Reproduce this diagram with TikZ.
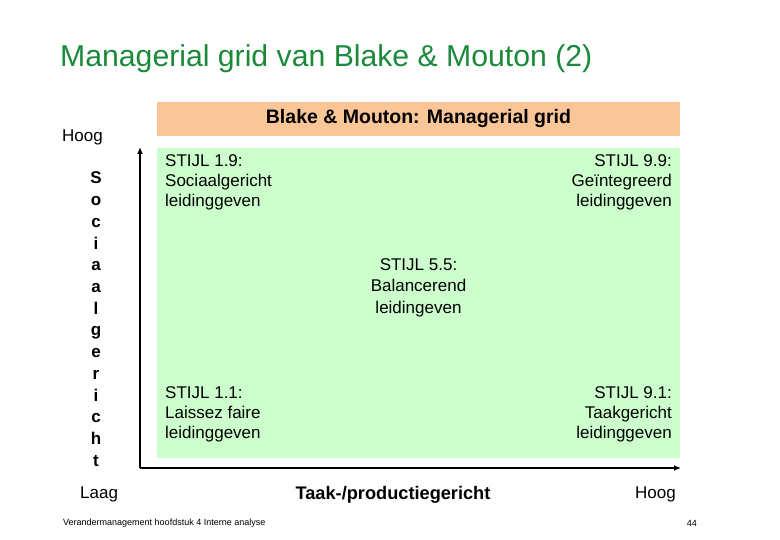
\documentclass[tikz,border=0pt]{standalone}
\usepackage{fontspec}
\setmainfont{Liberation Sans}
\usetikzlibrary{arrows.meta}
\definecolor{titlegreen}{HTML}{1A8A3A}
\definecolor{gridgreen}{HTML}{CCFFCC}
\definecolor{barpeach}{HTML}{FAC698}

\begin{document}
\begin{tikzpicture}[
    x=1pt, y=-1pt,
    stijl/.style={font=\fontsize{17}{20}\selectfont, inner sep=0pt},
    axlabel/.style={font=\fontsize{17}{20}\selectfont, inner sep=0pt},
    axis/.style={line width=2pt, -{Latex[length=7pt, width=6pt]}}
]
\useasboundingbox (0,0) rectangle (780,540);

% Title
\node[anchor=west, inner sep=0pt, text=titlegreen, font=\fontsize{30.2}{34}\selectfont] (title) at (60,59) {Managerial grid van Blake \& Mouton (2)};

% Header bar
\fill[barpeach] (157,102) rectangle (680,136);
\node[font=\bfseries\fontsize{19.5}{22}\selectfont, inner sep=0pt] (header) at (418.5,119) {Blake \& Mouton: Managerial grid};

% Grid area
\fill[gridgreen] (157,148) rectangle (680,458);

% Axes
\coordinate (origin) at (140,468);
\coordinate (ytop) at (140,147);
\coordinate (xend) at (681,468);
\draw[axis] (origin) -- (ytop);
\draw[axis] (origin) -- (xend);

% Styles in the grid
\node[stijl, anchor=north west, align=left] (s19) at (165,154) {STIJL 1.9:\\Sociaalgericht\\leidinggeven};
\node[stijl, anchor=north east, align=right] (s99) at (672,154) {STIJL 9.9:\\Geïntegreerd\\leidinggeven};
\node[stijl, anchor=north, align=center, font=\fontsize{17}{21.5}\selectfont] (s55) at (418.5,258) {STIJL 5.5:\\Balancerend\\leidingeven};
\node[stijl, anchor=north west, align=left] (s11) at (165,386) {STIJL 1.1:\\Laissez faire\\leidinggeven};
\node[stijl, anchor=north east, align=right] (s91) at (672,386) {STIJL 9.1:\\Taakgericht\\leidinggeven};

% Vertical axis label
\node[axlabel, anchor=west] (yhigh) at (62,137) {Hoog};
\foreach \ch [count=\i from 0] in {S,o,c,i,a,a,l,g,e,r,i,c,h,t} {
    \node[font=\bfseries\fontsize{17}{20}\selectfont, inner sep=0pt, anchor=base] (v\i) at (96,184+21.7*\i) {\ch};
}

% Horizontal axis labels
\node[axlabel, anchor=west] (ylow) at (80,494) {Laag};
\node[font=\bfseries\fontsize{18.2}{21}\selectfont, inner sep=0pt] (xlabel) at (393,495) {Taak-/productiegericht};
\node[axlabel, anchor=east] (xhigh) at (676,494) {Hoog};

% Footer
\node[anchor=west, inner sep=0pt, font=\fontsize{9}{11}\selectfont] (footer) at (63,523) {Verandermanagement hoofdstuk 4 Interne analyse};
\node[anchor=east, inner sep=0pt, font=\fontsize{9}{11}\selectfont] (page) at (697,523) {44};

\end{tikzpicture}
\end{document}
